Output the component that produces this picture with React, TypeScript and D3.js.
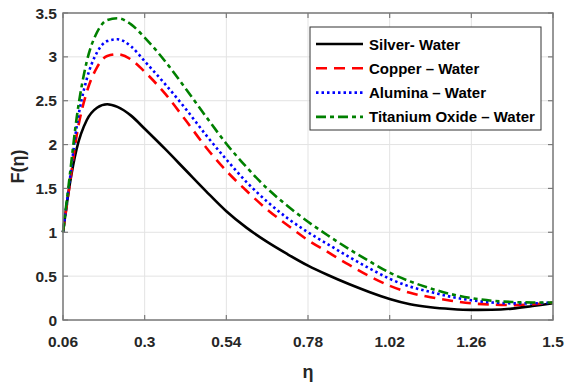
import React from "react";
import * as d3 from "d3";

const eta = [0.06, 0.08, 0.10, 0.13, 0.16, 0.19, 0.22, 0.26, 0.30, 0.36, 0.42, 0.48, 0.54, 0.60, 0.66, 0.72, 0.78, 0.84, 0.90, 0.96, 1.02, 1.08, 1.14, 1.20, 1.26, 1.32, 1.38, 1.44, 1.50];
const silver = [1.0, 1.55, 1.95, 2.28, 2.42, 2.46, 2.43, 2.33, 2.18, 1.95, 1.71, 1.47, 1.24, 1.05, 0.89, 0.75, 0.62, 0.51, 0.41, 0.32, 0.24, 0.18, 0.145, 0.125, 0.115, 0.117, 0.13, 0.16, 0.19];
const copper = [1.0, 1.55, 2.1, 2.6, 2.88, 3.01, 3.03, 2.97, 2.83, 2.58, 2.28, 1.97, 1.70, 1.47, 1.26, 1.08, 0.91, 0.77, 0.63, 0.50, 0.39, 0.31, 0.26, 0.22, 0.19, 0.175, 0.17, 0.18, 0.2];
const alumina = [1.0, 1.6, 2.2, 2.75, 3.05, 3.18, 3.2, 3.12, 2.95, 2.69, 2.41, 2.11, 1.83, 1.57, 1.35, 1.16, 1.0, 0.86, 0.72, 0.59, 0.47, 0.38, 0.32, 0.265, 0.225, 0.2, 0.19, 0.19, 0.2];
const titanium = [1.0, 1.65, 2.3, 2.95, 3.28, 3.42, 3.44, 3.37, 3.22, 2.95, 2.64, 2.32, 2.01, 1.74, 1.50, 1.30, 1.12, 0.96, 0.81, 0.67, 0.54, 0.44, 0.36, 0.295, 0.25, 0.22, 0.205, 0.2, 0.2];

const xTicks = [0.06, 0.3, 0.54, 0.78, 1.02, 1.26, 1.5];
const yTicks = [0, 0.5, 1, 1.5, 2, 2.5, 3, 3.5];
const labels = ["Silver- Water", "Copper \u2013 Water", "Alumina \u2013 Water", "Titanium Oxide \u2013 Water"];

const seriesList = [
  { name: labels[0], values: silver, color: "#000000", dash: "" },
  { name: labels[1], values: copper, color: "#ff0000", dash: "11,7" },
  { name: labels[2], values: alumina, color: "#0000ff", dash: "2.5,3" },
  { name: labels[3], values: titanium, color: "#008000", dash: "10,4,4,4" },
];

export default function App() {
  const W = 566, H = 385;
  const left = 63, right = 553, top = 13, bottom = 320;
  const x = d3.scaleLinear().domain([0.06, 1.5]).range([left, right]);
  const y = d3.scaleLinear().domain([0, 3.5]).range([bottom, top]);
  const line = (vals: number[]) =>
    d3.line<number>().x((_, i) => x(eta[i])).y((v) => y(v)).curve(d3.curveMonotoneX)(vals) || "";
  const font = "'Liberation Sans', Arial, sans-serif";
  const axisColor = "#7a7a7a";
  const lx = 310, ly = 27, lw = 231, lh = 103;
  return (
    <svg width={W} height={H} style={{ position: "absolute", left: 0, top: 0, background: "#fff" }} fontFamily={font}>
      <rect x={0} y={0} width={W} height={H} fill="#fff" />
      {xTicks.map((t) => (
        <line key={"gx" + t} x1={x(t)} x2={x(t)} y1={top} y2={bottom} stroke="#e3e3e3" strokeWidth={1} />
      ))}
      {yTicks.map((t) => (
        <line key={"gy" + t} x1={left} x2={right} y1={y(t)} y2={y(t)} stroke="#e3e3e3" strokeWidth={1} />
      ))}
      {seriesList.map((s) => (
        <path key={s.name} d={line(s.values)} fill="none" stroke={s.color} strokeWidth={2.6}
          strokeDasharray={s.dash || undefined} />
      ))}
      <rect x={left} y={top} width={right - left} height={bottom - top} fill="none" stroke={axisColor} strokeWidth={1.5} />
      {xTicks.map((t) => (
        <g key={"tx" + t}>
          <line x1={x(t)} x2={x(t)} y1={bottom} y2={bottom - 5} stroke={axisColor} strokeWidth={1.2} />
          <line x1={x(t)} x2={x(t)} y1={top} y2={top + 5} stroke={axisColor} strokeWidth={1.2} />
          <text x={x(t)} y={bottom + 27} textAnchor="middle" fontSize={15.5} fontWeight="bold" fill="#262626">{t}</text>
        </g>
      ))}
      {yTicks.map((t) => (
        <g key={"ty" + t}>
          <line x1={left} x2={left + 5} y1={y(t)} y2={y(t)} stroke={axisColor} strokeWidth={1.2} />
          <line x1={right} x2={right - 5} y1={y(t)} y2={y(t)} stroke={axisColor} strokeWidth={1.2} />
          <text x={left - 6} y={y(t) + 5.5} textAnchor="end" fontSize={15.5} fontWeight="bold" fill="#262626">{t}</text>
        </g>
      ))}
      <text x={(left + right) / 2} y={378} textAnchor="middle" fontSize={18} fontWeight="bold" fill="#262626">η</text>
      <text transform={`translate(24,${(top + bottom) / 2}) rotate(-90)`} textAnchor="middle" fontSize={18} fontWeight="bold" fill="#262626">F(η)</text>
      <rect x={lx} y={ly} width={lw} height={lh} fill="#fff" stroke="#333" strokeWidth={1} />
      {seriesList.map((s, i) => {
        const yy = ly + 17 + i * 24.3;
        return (
          <g key={"lg" + i}>
            <line x1={lx + 6} x2={lx + 53} y1={yy} y2={yy} stroke={s.color} strokeWidth={2.6}
              strokeDasharray={s.dash || undefined} />
            <text x={lx + 59} y={yy + 5.5} fontSize={15} fontWeight="bold" fill="#000">{s.name}</text>
          </g>
        );
      })}
    </svg>
  );
}
